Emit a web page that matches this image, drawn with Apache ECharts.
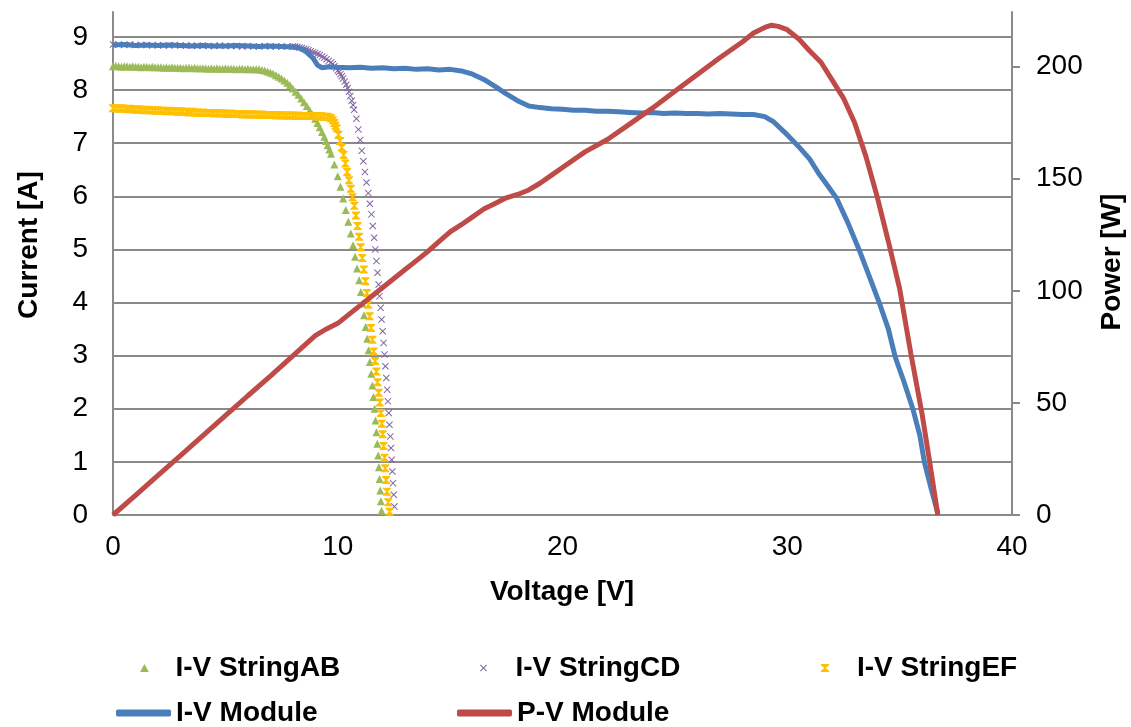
<!DOCTYPE html>
<html>
<head>
<meta charset="utf-8">
<script src="https://cdn.jsdelivr.net/npm/echarts@6/dist/echarts.min.js"></script>
<style>html,body{margin:0;padding:0;background:#fff}#c{width:1131px;height:727px}</style>
</head>
<body>
<div id="c"></div>
<script>
// ---- data ----
const abV = [0,0.125,0.25,0.375,0.5,0.625,0.75,0.875,1,1.125,1.25,1.375,1.5,1.625,1.75,1.875,2,2.125,2.25,2.375,2.5,2.625,2.75,2.875,
  3,3.125,3.25,3.375,3.5,3.625,3.75,3.875,4,4.125,4.25,4.375,4.5,4.625,4.75,4.875,5,5.125,5.25,5.375,5.5,5.625,5.75,5.875,6,6.125,6.25,6.375,6.5,
  6.625,6.75,6.875,7,7.125,7.25,7.375,7.5,7.625,7.75,7.875,8,8.125,8.25,8.375,8.5,8.625,8.75,8.875,9,9.1,9.2,9.3,9.4,9.48,9.55,9.63,9.7,
  9.85,10,10.12,10.24,10.36,10.47,10.58,10.68,10.77,10.86,10.95,11.03,11.1,11.17,11.24,11.31,11.37,11.43,11.49,11.54,11.59,11.64,11.68,11.72,
  11.76,11.8,11.83,11.86,11.89,11.92,11.95];
const abI = [8.45,8.46,8.45,8.44,8.45,8.45,8.44,8.45,8.44,8.44,8.43,8.44,8.44,8.43,8.44,8.43,8.43,8.43,8.42,8.43,8.42,8.43,8.42,8.42,
  8.42,8.41,8.42,8.42,8.41,8.42,8.41,8.41,8.41,8.41,8.40,8.41,8.40,8.41,8.40,8.40,8.41,8.40,8.40,8.40,8.39,8.40,8.40,8.39,8.40,8.39,8.39,8.39,8.39,
  8.38,8.37,8.35,8.33,8.31,8.28,8.25,8.22,8.18,8.14,8.09,8.03,7.97,7.91,7.84,7.77,7.70,7.62,7.54,7.46,7.38,7.30,7.21,7.12,7.04,6.96,6.88,6.80,
  6.60,6.38,6.18,5.96,5.74,5.52,5.30,5.08,4.86,4.64,4.42,4.20,3.98,3.76,3.54,3.32,3.10,2.88,2.66,2.44,2.22,2.00,1.78,1.56,
  1.34,1.12,0.90,0.68,0.46,0.26,0.08];

const cdV = [0,0.25,0.5,0.75,1,1.25,1.5,1.75,2,2.25,2.5,2.75,3,3.25,3.5,3.75,4,4.25,4.5,4.75,5,5.25,5.5,5.75,6,6.25,6.5,6.75,7,7.25,7.5,7.75,8,
  8.1,8.2,8.3,8.4,8.5,8.6,8.7,8.8,8.9,9,9.1,9.2,9.3,9.4,9.5,9.6,9.7,9.78,9.85,9.93,10,10.06,10.12,10.18,10.24,10.31,10.38,10.44,10.5,10.56,10.62,10.68,10.73,
  10.83,10.92,11,11.07,11.14,11.21,11.28,11.36,11.43,11.5,11.56,11.62,11.67,11.72,11.77,11.82,11.86,11.91,11.95,12,12.04,12.08,12.12,12.16,
  12.2,12.23,12.27,12.3,12.34,12.37,12.4,12.43,12.46,12.49,12.52];
const cdI = [8.86,8.86,8.85,8.86,8.85,8.85,8.85,8.84,8.85,8.84,8.84,8.85,8.84,8.84,8.84,8.83,8.84,8.83,8.83,8.84,8.83,8.83,8.83,8.82,8.83,8.82,8.82,8.83,8.82,8.82,8.82,8.82,8.82,
  8.82,8.81,8.80,8.79,8.78,8.77,8.75,8.73,8.71,8.70,8.68,8.66,8.63,8.61,8.58,8.55,8.52,8.49,8.45,8.41,8.37,8.34,8.30,8.26,8.22,8.16,8.10,8.04,7.97,7.89,7.80,7.72,7.63,
  7.46,7.26,7.06,6.86,6.66,6.46,6.26,6.06,5.86,5.66,5.44,5.22,5.00,4.78,4.56,4.34,4.12,3.90,3.68,3.46,3.24,3.02,2.80,2.58,
  2.36,2.14,1.92,1.70,1.48,1.26,1.04,0.82,0.60,0.38,0.16];

const efV = [0,0.125,0.25,0.375,0.5,0.625,0.75,0.875,1,1.125,1.25,1.375,1.5,1.625,1.75,1.875,2,2.125,2.25,2.375,2.5,2.625,2.75,2.875,
  3,3.125,3.25,3.375,3.5,3.625,3.75,3.875,4,4.125,4.25,4.375,4.5,4.625,4.75,4.875,5,5.125,5.25,5.375,5.5,5.625,5.75,5.875,6,6.125,6.25,6.375,
  6.5,6.625,6.75,6.875,7,7.125,7.25,7.375,7.5,7.625,7.75,7.875,8,8.125,8.25,8.375,8.5,8.625,8.75,8.875,9,9.125,9.25,9.375,9.5,
  9.6,9.7,9.78,9.85,9.9,9.95,10.03,10.1,10.18,10.26,10.34,10.42,10.5,10.58,10.66,10.74,10.81,10.88,10.95,11.02,11.09,11.16,11.23,11.3,11.36,11.42,
  11.48,11.54,11.6,11.66,11.72,11.77,11.82,11.87,11.92,11.96,12,12.04,12.08,12.11,12.15,12.19,12.25,12.31];
const efI = [7.66,7.66,7.65,7.66,7.65,7.64,7.65,7.64,7.63,7.64,7.63,7.62,7.63,7.62,7.62,7.61,7.62,7.61,7.61,7.60,7.61,7.60,7.60,7.59,
  7.60,7.59,7.59,7.58,7.59,7.58,7.58,7.57,7.58,7.57,7.57,7.57,7.56,7.57,7.56,7.56,7.56,7.55,7.56,7.55,7.55,7.55,7.54,7.55,7.54,7.54,7.54,7.54,
  7.53,7.54,7.53,7.53,7.53,7.53,7.52,7.53,7.52,7.52,7.52,7.52,7.52,7.51,7.52,7.51,7.51,7.51,7.51,7.51,7.51,7.50,7.51,7.50,7.50,
  7.49,7.47,7.43,7.38,7.33,7.28,7.16,7.04,6.92,6.78,6.62,6.46,6.30,6.14,5.98,5.82,5.64,5.44,5.24,5.04,4.84,4.62,4.40,4.18,3.96,3.74,
  3.52,3.30,3.08,2.90,2.70,2.50,2.30,2.12,1.92,1.72,1.52,1.30,1.08,0.88,0.66,0.44,0.24,0.06];

const modV = [0,0.5,1,1.5,2,2.5,3,3.5,4,4.5,5,5.5,6,6.5,7,7.5,8,8.3,8.6,8.9,9.1,9.3,9.6,10,10.5,11,11.5,12,12.5,13,13.5,14,14.5,15,15.5,
  16,16.5,17,17.5,18,18.5,19,19.5,20,20.5,21,21.5,22,22.5,23,23.5,24,24.5,25,25.5,26,26.5,27,27.5,28,28.5,29,29.4,29.9,30.5,31,31.4,31.8,32.2,
  32.7,33.2,33.6,34.1,34.5,34.8,35.2,35.6,35.9,36.1,36.4,36.7];
const modI = [8.85,8.86,8.84,8.85,8.84,8.85,8.84,8.83,8.84,8.83,8.83,8.84,8.83,8.82,8.83,8.82,8.81,8.79,8.72,8.60,8.47,8.42,8.44,8.43,8.42,8.43,8.41,8.42,8.40,8.41,8.39,8.40,8.38,8.39,8.36,
  8.30,8.20,8.07,7.93,7.80,7.70,7.67,7.65,7.64,7.62,7.62,7.60,7.60,7.59,7.58,7.57,7.58,7.56,7.57,7.56,7.56,7.55,7.56,7.55,7.54,7.54,7.50,7.40,7.20,6.94,6.70,6.43,6.20,5.96,
  5.50,4.99,4.55,3.99,3.50,2.98,2.50,1.98,1.50,1.00,0.50,0.03];

const pwV = [0,1,2,3,4,5,6,7,8,9,9.5,10,10.5,11,11.5,12,12.5,13,13.5,14,14.5,15,15.5,16,16.5,17,17.5,18,18.5,19,19.5,20,21,22,23,24,25,26,27,28,28.5,29,29.3,
  29.6,30,30.5,31,31.5,32,32.5,33,33.5,34,34.5,35,35.5,36,36.3,36.7];
const pwP = [0,8.8,17.7,26.5,35.4,44.3,53.2,62,71,80,83,85.5,89.5,93.5,97.5,101.5,105.5,109.5,113.5,117.5,122,126.3,129.5,133,136.5,139,141.5,143,145,148,151.5,155,162,167.5,174.5,181.5,189,196.5,204,211,215,217.5,218.5,
  218,216.5,212.5,207,202,194,186,175,160,142,122,101,72,45,26,0];

const xTicks = [0, 10, 20, 30, 40];
const leftTicks = [0,1,2,3,4,5,6,7,8,9];
const rightTicks = [0,50,100,150,200];

const zip = (a, b) => a.map((v, i) => [v, b[i]]);

const FONT = 'Liberation Sans, Arial, sans-serif';
const GRAY = '#8a8a8a';
const triPath = 'path://M5,0 L10,9 L0,9 Z';
const crossPath = 'path://M0,1 L1,0 L5,4 L9,0 L10,1 L6,5 L10,9 L9,10 L5,6 L1,10 L0,9 L4,5 Z';
const hourPath = 'path://M0,0 L10,0 L10,1.5 L6,5 L10,8.5 L10,10 L0,10 L0,8.5 L4,5 L0,1.5 Z';

const chart = echarts.init(document.getElementById('c'), null, {renderer: 'canvas'});
const legendText = {fontFamily: FONT, fontSize: 28, fontWeight: 'bold', color: '#000', lineHeight: 30};
chart.setOption({
  animation: false,
  backgroundColor: '#fff',
  grid: {left: 113, right: 119, top: 12, bottom: 212, containLabel: false},
  xAxis: {
    type: 'value', min: xTicks[0], max: xTicks[xTicks.length - 1], interval: 10,
    axisLine: {show: true, lineStyle: {color: GRAY, width: 2}},
    axisTick: {show: false},
    splitLine: {show: false},
    axisLabel: {fontFamily: FONT, fontSize: 28, color: '#000', margin: 18}
  },
  yAxis: [{
    type: 'value', min: 0, max: 9.47, interval: 1,
    axisLine: {show: true, lineStyle: {color: GRAY, width: 2}},
    axisTick: {show: false},
    splitLine: {show: true, showMaxLine: false, lineStyle: {color: GRAY, width: 2}},
    axisLabel: {fontFamily: FONT, fontSize: 28, color: '#000', margin: 25, showMaxLabel: false,
      formatter: v => leftTicks.indexOf(v) >= 0 ? String(v) : ''}
  }, {
    type: 'value', min: 0, max: 224.4, interval: 50, position: 'right',
    axisLine: {show: true, lineStyle: {color: GRAY, width: 2}},
    axisTick: {show: true, length: 8, lineStyle: {color: GRAY, width: 2}},
    splitLine: {show: false},
    axisLabel: {fontFamily: FONT, fontSize: 28, color: '#000', margin: 24, showMaxLabel: false,
      formatter: v => rightTicks.indexOf(v) >= 0 ? String(v) : ''}
  }],
  legend: [
    {data: [{name: 'I-V StringAB', icon: triPath}], left: 140, top: 653, padding: 0, itemWidth: 52, itemHeight: 8, textStyle: legendText},
    {data: [{name: 'I-V StringCD', icon: crossPath}], left: 480, top: 653, padding: 0, itemWidth: 54, itemHeight: 7, textStyle: legendText},
    {data: [{name: 'I-V StringEF', icon: hourPath}], left: 821, top: 653, padding: 0, itemWidth: 54, itemHeight: 8, textStyle: legendText},
    {data: [{name: 'I-V Module', icon: 'roundRect'}], left: 116, top: 698, padding: 0, itemWidth: 55, itemHeight: 7, textStyle: legendText},
    {data: [{name: 'P-V Module', icon: 'roundRect'}], left: 457, top: 698, padding: 0, itemWidth: 55, itemHeight: 7, textStyle: legendText}
  ],
  graphic: [
    {type: 'text', x: 29, y: 245, rotation: Math.PI / 2,
      style: {text: 'Current [A]', font: 'bold 28px ' + FONT, fill: '#000', textAlign: 'center', textVerticalAlign: 'middle'}},
    {type: 'text', x: 1112, y: 262, rotation: Math.PI / 2,
      style: {text: 'Power [W]', font: 'bold 28px ' + FONT, fill: '#000', textAlign: 'center', textVerticalAlign: 'middle'}},
    {type: 'text', x: 562, y: 592,
      style: {text: 'Voltage [V]', font: 'bold 28px ' + FONT, fill: '#000', textAlign: 'center', textVerticalAlign: 'middle'}}
  ],
  series: [
    {name: 'I-V StringAB', type: 'scatter', yAxisIndex: 0, data: zip(abV, abI),
      symbol: 'triangle', symbolSize: 8, itemStyle: {color: '#9BBB59', opacity: 1}},
    {name: 'I-V StringCD', type: 'scatter', yAxisIndex: 0, data: zip(cdV, cdI),
      symbol: crossPath, symbolSize: 7, itemStyle: {color: '#8064A2', opacity: 1}},
    {name: 'I-V StringEF', type: 'scatter', yAxisIndex: 0, data: zip(efV, efI),
      symbol: hourPath, symbolSize: 8, itemStyle: {color: '#FFC000', opacity: 1}},
    {name: 'I-V Module', type: 'line', yAxisIndex: 0, data: zip(modV, modI),
      showSymbol: false, symbol: 'none', lineStyle: {color: '#4A7EBB', width: 5}, itemStyle: {color: '#4A7EBB'}},
    {name: 'P-V Module', type: 'line', yAxisIndex: 1, data: zip(pwV, pwP),
      showSymbol: false, symbol: 'none', lineStyle: {color: '#BE4B48', width: 5}, itemStyle: {color: '#BE4B48'}}
  ]
});
</script>
</body>
</html>
